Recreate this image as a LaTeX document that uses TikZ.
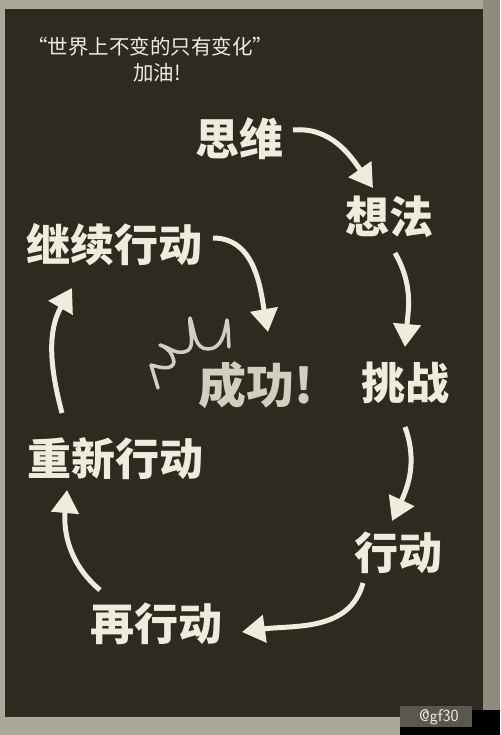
\documentclass[tikz,border=0pt]{standalone}
\usepackage{fontspec}
\newfontfamily\cjk{Noto Sans CJK SC}
\usetikzlibrary{arrows.meta}
\definecolor{board}{HTML}{2F2A1F}
\definecolor{frameC}{HTML}{ABA79B}
\definecolor{frameR}{HTML}{8E8A7E}
\definecolor{chalk}{HTML}{EEEBDF}
\definecolor{chalkdim}{HTML}{D2CEC1}
\definecolor{wmgray}{HTML}{5A574F}
\tikzset{
  lbl/.style={text=chalk, font=\cjk\bfseries\fontsize{44}{50}\selectfont, inner sep=0pt},
  ttl/.style={text=chalk, font=\cjk\fontsize{20.5}{24}\selectfont, inner sep=0pt},
  arr/.style={draw=chalk, line width=5pt, -{Triangle[width=27pt,length=23pt]}},
  burst/.style={draw=chalkdim, line width=3.5pt, line join=round, line cap=round}
}
\begin{document}
\begin{tikzpicture}[x=1pt,y=-1pt]
\useasboundingbox (0,0) rectangle (500,735);
\fill[frameC] (0,0) rectangle (500,735);
\fill[frameR] (483,0) rectangle (500,735);
\fill[board] (5,9) rectangle (483,717);
% texts
\node[ttl] (title) at (150,47) {“世界上不变的只有变化”};
\node[ttl] (jiayou) at (157,73) {加油!};
\node[lbl] (siwei) at (239,139) {思维};
\node[lbl] (xiangfa) at (389,217) {想法};
\node[lbl] (jixu) at (114,245) {继续行动};
\node[lbl] (tiaozhan) at (405,383) {挑战};
\node[lbl, text=chalkdim, font=\cjk\bfseries\fontsize{48}{54}\selectfont] (chenggong) at (256,385) {成功!};
\node[lbl] (chongxin) at (115,459) {重新行动};
\node[lbl] (xingdong) at (398,553) {行动};
\node[lbl] (zaixing) at (156,624) {再行动};
% arrow end points
\coordinate (a1s) at (293,130); \coordinate (a1e) at (373,188);
\coordinate (a2s) at (395,253); \coordinate (a2e) at (405,347);
\coordinate (a3s) at (405,427); \coordinate (a3e) at (392,521);
\coordinate (a4s) at (363,583); \coordinate (a4e) at (242,632);
\coordinate (a5s) at (100,590); \coordinate (a5e) at (67,490);
\coordinate (a6s) at (62,413);  \coordinate (a6e) at (72,288);
\coordinate (a7s) at (213,238); \coordinate (a7e) at (268,332);
\draw[arr] (a1s) to[out=5,in=125] (a1e);
\draw[arr] (a2s) to[out=-60,in=85] (a2e);
\draw[arr] (a3s) to[out=-70,in=65] (a3e);
\draw[arr] (a4s) to[out=-105,in=8] (a4e);
\draw[arr] (a5s) to[out=140,in=-95] (a5e);
\draw[arr] (a6s) to[out=105,in=-120] (a6e);
\draw[arr] (a7s) to[out=0,in=100] (a7e);
% burst
\draw[burst] (158,388) -- (151,365) to[out=-15,in=-100] (174,362) to[out=100,in=-20] (160,345)
  to[out=-15,in=190] (184,352) to[out=10,in=-95] (190,318)
  to[out=-70,in=180] (208,349) to[out=0,in=-100] (227,320)
  to[out=-80,in=95] (229,347);
% watermark
\fill[black] (472,710) rectangle (500,735);
\fill[black] (400,727) rectangle (500,735);
\fill[wmgray] (400,706) rectangle (472,727);
\node[text=chalk, font=\sffamily\fontsize{17}{19}\selectfont, inner sep=0pt, anchor=west] (wm) at (419,717) {@gf30};
\end{tikzpicture}
\end{document}
